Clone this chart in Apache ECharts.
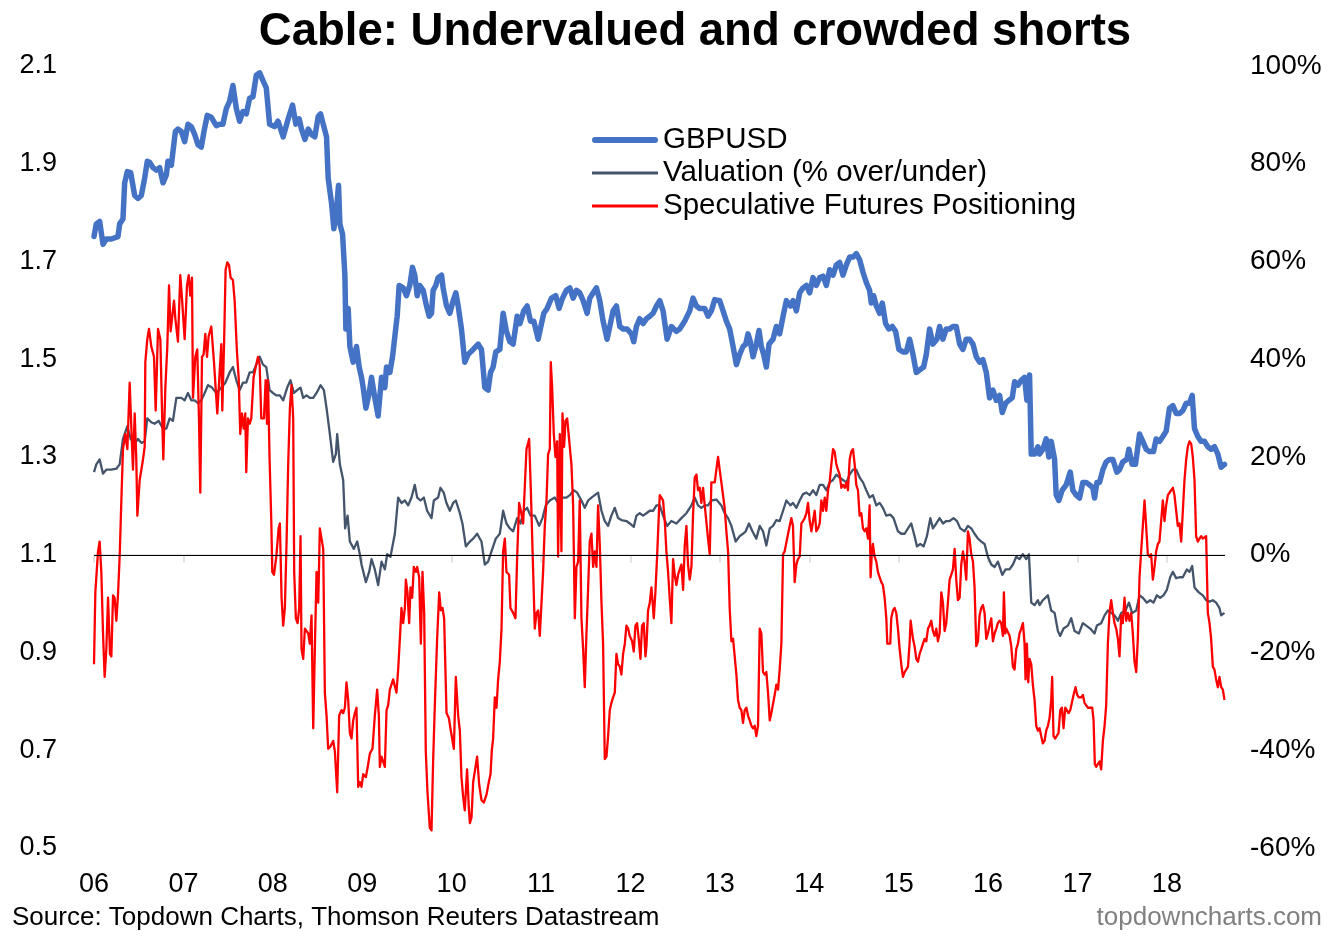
<!DOCTYPE html>
<html><head><meta charset="utf-8">
<script src="https://cdn.jsdelivr.net/npm/echarts@6/dist/echarts.min.js"></script>
<style>html,body{margin:0;padding:0;background:#fff}#c{width:1336px;height:940px}</style>
</head><body><div id="c"></div>
<script>
const FONT = "'Liberation Sans', Arial, sans-serif";
const titleText = 'Cable: Undervalued and crowded shorts';
const sourceText = 'Source: Topdown Charts, Thomson Reuters Datastream';
const brandText = 'topdowncharts.com';
const seriesNames = ['GBPUSD', 'Valuation (% over/under)', 'Speculative Futures Positioning'];
const yearTicks = [2006,2007,2008,2009,2010,2011,2012,2013,2014,2015,2016,2017,2018];

// GBPUSD spot (left axis), [decimal year, rate]
const gbpusd = [[2006.000,1.751],[2006.026,1.777],[2006.063,1.782],[2006.101,1.735],[2006.138,1.746],[2006.194,1.746],[2006.268,1.751],[2006.287,1.777],[2006.324,1.787],[2006.343,1.861],[2006.373,1.884],[2006.410,1.882],[2006.455,1.835],[2006.492,1.829],[2006.529,1.835],[2006.567,1.871],[2006.596,1.905],[2006.622,1.903],[2006.660,1.892],[2006.697,1.887],[2006.734,1.892],[2006.772,1.861],[2006.809,1.877],[2006.827,1.905],[2006.865,1.897],[2006.910,1.966],[2006.939,1.971],[2006.977,1.966],[2007.014,1.945],[2007.051,1.981],[2007.088,1.976],[2007.126,1.960],[2007.163,1.939],[2007.200,1.934],[2007.230,1.966],[2007.267,1.999],[2007.312,1.995],[2007.368,1.978],[2007.405,1.981],[2007.442,1.981],[2007.480,2.013],[2007.517,2.028],[2007.554,2.060],[2007.592,2.013],[2007.629,1.987],[2007.666,2.007],[2007.703,2.002],[2007.741,2.034],[2007.778,2.037],[2007.815,2.081],[2007.853,2.086],[2007.890,2.070],[2007.927,2.055],[2007.964,1.981],[2008.020,1.976],[2008.058,1.987],[2008.116,1.955],[2008.172,1.992],[2008.221,2.020],[2008.258,1.981],[2008.295,1.992],[2008.321,1.971],[2008.359,1.950],[2008.396,1.971],[2008.433,1.960],[2008.470,1.955],[2008.508,1.997],[2008.534,2.002],[2008.571,1.976],[2008.601,1.955],[2008.619,1.871],[2008.657,1.819],[2008.683,1.767],[2008.713,1.808],[2008.735,1.856],[2008.750,1.777],[2008.780,1.756],[2008.806,1.672],[2008.817,1.562],[2008.843,1.604],[2008.862,1.526],[2008.899,1.494],[2008.936,1.526],[2008.966,1.484],[2008.992,1.463],[2009.011,1.442],[2009.041,1.400],[2009.078,1.431],[2009.104,1.463],[2009.141,1.421],[2009.178,1.384],[2009.216,1.463],[2009.253,1.442],[2009.272,1.484],[2009.309,1.473],[2009.339,1.505],[2009.365,1.547],[2009.391,1.588],[2009.413,1.651],[2009.458,1.646],[2009.495,1.630],[2009.532,1.651],[2009.562,1.688],[2009.588,1.672],[2009.615,1.630],[2009.644,1.651],[2009.682,1.641],[2009.719,1.609],[2009.749,1.588],[2009.775,1.594],[2009.793,1.641],[2009.823,1.651],[2009.849,1.667],[2009.887,1.672],[2009.905,1.646],[2009.943,1.609],[2009.980,1.594],[2010.017,1.620],[2010.047,1.636],[2010.073,1.609],[2010.110,1.562],[2010.147,1.494],[2010.185,1.510],[2010.241,1.520],[2010.297,1.531],[2010.334,1.520],[2010.371,1.442],[2010.408,1.437],[2010.435,1.473],[2010.464,1.484],[2010.494,1.515],[2010.539,1.520],[2010.576,1.594],[2010.613,1.557],[2010.651,1.536],[2010.688,1.531],[2010.733,1.588],[2010.763,1.573],[2010.807,1.599],[2010.845,1.609],[2010.882,1.578],[2010.919,1.578],[2010.968,1.541],[2011.005,1.573],[2011.031,1.594],[2011.068,1.604],[2011.117,1.625],[2011.165,1.630],[2011.202,1.604],[2011.240,1.625],[2011.284,1.641],[2011.322,1.646],[2011.359,1.625],[2011.396,1.641],[2011.433,1.636],[2011.471,1.620],[2011.515,1.594],[2011.545,1.625],[2011.583,1.636],[2011.620,1.646],[2011.657,1.620],[2011.694,1.578],[2011.739,1.541],[2011.769,1.567],[2011.806,1.599],[2011.843,1.609],[2011.881,1.567],[2011.918,1.562],[2011.963,1.562],[2012.011,1.552],[2012.037,1.536],[2012.067,1.567],[2012.104,1.583],[2012.141,1.573],[2012.179,1.583],[2012.216,1.588],[2012.253,1.594],[2012.291,1.609],[2012.328,1.620],[2012.365,1.599],[2012.410,1.541],[2012.458,1.567],[2012.514,1.557],[2012.551,1.562],[2012.607,1.578],[2012.663,1.599],[2012.700,1.625],[2012.738,1.609],[2012.775,1.604],[2012.831,1.604],[2012.868,1.588],[2012.905,1.599],[2012.943,1.622],[2012.998,1.620],[2013.036,1.599],[2013.073,1.578],[2013.110,1.562],[2013.148,1.526],[2013.185,1.489],[2013.222,1.510],[2013.259,1.526],[2013.289,1.531],[2013.315,1.552],[2013.341,1.536],[2013.371,1.505],[2013.408,1.531],[2013.438,1.559],[2013.464,1.526],[2013.490,1.510],[2013.520,1.484],[2013.550,1.531],[2013.595,1.541],[2013.632,1.567],[2013.669,1.552],[2013.707,1.588],[2013.744,1.620],[2013.789,1.609],[2013.818,1.620],[2013.856,1.599],[2013.893,1.636],[2013.930,1.646],[2013.968,1.651],[2014.005,1.636],[2014.042,1.667],[2014.079,1.651],[2014.117,1.667],[2014.154,1.670],[2014.191,1.651],[2014.228,1.683],[2014.266,1.672],[2014.303,1.693],[2014.340,1.698],[2014.377,1.672],[2014.415,1.693],[2014.452,1.709],[2014.489,1.709],[2014.526,1.716],[2014.563,1.704],[2014.601,1.678],[2014.638,1.657],[2014.675,1.641],[2014.694,1.615],[2014.720,1.630],[2014.750,1.609],[2014.787,1.594],[2014.817,1.615],[2014.854,1.573],[2014.891,1.562],[2014.929,1.567],[2014.966,1.557],[2015.003,1.520],[2015.048,1.515],[2015.085,1.515],[2015.122,1.541],[2015.160,1.510],[2015.197,1.473],[2015.234,1.478],[2015.279,1.484],[2015.309,1.510],[2015.346,1.562],[2015.383,1.531],[2015.428,1.541],[2015.458,1.567],[2015.495,1.541],[2015.532,1.562],[2015.570,1.562],[2015.607,1.567],[2015.644,1.567],[2015.682,1.531],[2015.719,1.520],[2015.756,1.541],[2015.793,1.541],[2015.831,1.531],[2015.868,1.505],[2015.905,1.494],[2015.942,1.499],[2015.980,1.473],[2016.017,1.421],[2016.054,1.437],[2016.092,1.416],[2016.129,1.426],[2016.159,1.391],[2016.196,1.410],[2016.233,1.416],[2016.270,1.421],[2016.297,1.454],[2016.334,1.447],[2016.371,1.457],[2016.408,1.463],[2016.434,1.416],[2016.464,1.468],[2016.483,1.306],[2016.520,1.306],[2016.557,1.321],[2016.576,1.306],[2016.613,1.316],[2016.650,1.337],[2016.680,1.300],[2016.706,1.332],[2016.744,1.295],[2016.762,1.222],[2016.792,1.211],[2016.829,1.232],[2016.874,1.243],[2016.919,1.269],[2016.948,1.232],[2016.986,1.222],[2017.023,1.216],[2017.060,1.248],[2017.098,1.248],[2017.135,1.243],[2017.172,1.237],[2017.191,1.216],[2017.217,1.248],[2017.247,1.248],[2017.284,1.274],[2017.321,1.290],[2017.358,1.295],[2017.396,1.295],[2017.440,1.269],[2017.470,1.274],[2017.507,1.290],[2017.552,1.295],[2017.575,1.316],[2017.612,1.285],[2017.649,1.285],[2017.694,1.347],[2017.731,1.332],[2017.768,1.316],[2017.806,1.311],[2017.850,1.311],[2017.880,1.337],[2017.917,1.332],[2017.955,1.342],[2017.992,1.353],[2018.029,1.400],[2018.067,1.405],[2018.104,1.389],[2018.141,1.389],[2018.178,1.395],[2018.216,1.410],[2018.253,1.410],[2018.283,1.426],[2018.309,1.358],[2018.346,1.342],[2018.383,1.332],[2018.421,1.332],[2018.458,1.321],[2018.495,1.316],[2018.532,1.321],[2018.570,1.306],[2018.607,1.279],[2018.644,1.285]];

// Valuation, % over/under (right axis)
const valuation = [[2006.000,16.9],[2006.026,18.5],[2006.063,19.5],[2006.101,16.6],[2006.138,17.4],[2006.194,17.4],[2006.250,17.6],[2006.287,18.5],[2006.324,23.7],[2006.373,26.3],[2006.410,23.7],[2006.455,22.7],[2006.492,23.7],[2006.529,22.9],[2006.567,23.2],[2006.596,27.9],[2006.641,27.1],[2006.678,26.8],[2006.723,27.4],[2006.772,25.8],[2006.809,25.8],[2006.846,27.9],[2006.883,27.4],[2006.921,32.1],[2006.977,32.1],[2007.014,31.6],[2007.051,33.1],[2007.088,31.6],[2007.126,31.6],[2007.163,31.0],[2007.200,31.6],[2007.238,33.1],[2007.275,34.7],[2007.320,34.2],[2007.368,33.1],[2007.424,34.2],[2007.469,35.2],[2007.517,37.3],[2007.554,38.4],[2007.592,35.7],[2007.629,33.7],[2007.666,35.2],[2007.703,35.2],[2007.741,37.3],[2007.778,37.3],[2007.815,38.9],[2007.853,40.5],[2007.890,38.9],[2007.927,38.4],[2007.964,33.7],[2008.001,33.1],[2008.039,32.6],[2008.079,32.6],[2008.116,31.6],[2008.161,34.2],[2008.198,35.7],[2008.236,33.1],[2008.273,33.7],[2008.310,34.2],[2008.340,32.1],[2008.377,32.6],[2008.414,32.1],[2008.452,32.1],[2008.489,33.1],[2008.534,34.7],[2008.571,33.7],[2008.601,30.0],[2008.638,24.7],[2008.675,19.0],[2008.705,20.6],[2008.720,24.7],[2008.750,18.5],[2008.787,15.3],[2008.809,5.4],[2008.836,8.0],[2008.862,2.7],[2008.906,1.2],[2008.944,2.7],[2008.973,0.1],[2008.992,-2.0],[2009.041,-5.6],[2009.078,-3.5],[2009.104,-0.9],[2009.141,-3.0],[2009.178,-6.2],[2009.216,-1.4],[2009.253,-3.0],[2009.279,0.1],[2009.316,-0.4],[2009.365,4.3],[2009.402,11.7],[2009.439,10.6],[2009.477,11.1],[2009.514,10.1],[2009.551,11.7],[2009.588,14.3],[2009.615,11.7],[2009.652,11.1],[2009.689,11.7],[2009.726,9.0],[2009.775,7.5],[2009.801,11.1],[2009.849,11.7],[2009.875,13.7],[2009.912,12.7],[2009.942,10.6],[2009.980,9.0],[2010.017,10.6],[2010.047,11.1],[2010.092,8.5],[2010.121,6.4],[2010.159,1.7],[2010.204,2.7],[2010.241,3.3],[2010.285,4.3],[2010.334,2.7],[2010.371,-2.0],[2010.408,-1.4],[2010.446,0.7],[2010.494,3.3],[2010.539,4.3],[2010.576,9.0],[2010.613,6.4],[2010.651,5.4],[2010.688,4.8],[2010.733,7.5],[2010.770,6.4],[2010.807,9.0],[2010.845,9.6],[2010.882,8.0],[2010.930,8.0],[2010.979,5.9],[2011.016,7.5],[2011.053,10.1],[2011.098,11.1],[2011.154,11.7],[2011.191,10.6],[2011.240,11.7],[2011.284,11.7],[2011.322,12.2],[2011.366,13.2],[2011.404,12.7],[2011.452,11.1],[2011.489,9.6],[2011.527,11.1],[2011.564,11.7],[2011.601,12.2],[2011.638,12.7],[2011.676,9.0],[2011.713,6.9],[2011.750,5.9],[2011.787,8.0],[2011.825,9.6],[2011.862,7.5],[2011.899,7.1],[2011.955,6.9],[2011.992,6.4],[2012.037,5.7],[2012.067,8.0],[2012.104,8.5],[2012.141,8.0],[2012.179,8.5],[2012.216,9.0],[2012.253,9.0],[2012.291,10.1],[2012.328,10.1],[2012.365,8.0],[2012.410,5.9],[2012.458,6.9],[2012.514,6.4],[2012.570,7.5],[2012.626,8.5],[2012.682,10.1],[2012.719,11.7],[2012.756,10.1],[2012.793,9.6],[2012.831,10.1],[2012.868,10.1],[2012.905,11.1],[2012.961,11.3],[2013.017,10.1],[2013.054,8.5],[2013.092,7.5],[2013.129,5.9],[2013.177,2.7],[2013.222,3.8],[2013.259,4.3],[2013.289,4.8],[2013.326,6.4],[2013.364,4.8],[2013.408,3.3],[2013.446,5.9],[2013.483,4.8],[2013.520,1.9],[2013.558,5.4],[2013.595,5.9],[2013.632,7.1],[2013.669,6.9],[2013.707,9.0],[2013.744,11.1],[2013.789,10.1],[2013.818,10.6],[2013.856,9.6],[2013.893,11.1],[2013.930,12.4],[2013.968,12.7],[2014.005,12.2],[2014.042,13.2],[2014.079,12.2],[2014.117,14.3],[2014.154,14.3],[2014.191,13.2],[2014.228,14.8],[2014.266,15.3],[2014.303,16.4],[2014.340,15.8],[2014.377,15.3],[2014.415,14.8],[2014.452,16.4],[2014.489,17.4],[2014.526,17.4],[2014.563,15.8],[2014.601,14.8],[2014.638,13.2],[2014.675,11.7],[2014.712,12.2],[2014.750,10.1],[2014.787,10.6],[2014.824,9.6],[2014.861,8.0],[2014.906,8.2],[2014.943,7.5],[2014.992,4.8],[2015.029,4.3],[2015.067,4.3],[2015.104,5.4],[2015.141,6.4],[2015.178,3.8],[2015.205,1.7],[2015.242,2.2],[2015.279,1.7],[2015.316,3.8],[2015.354,7.5],[2015.383,5.4],[2015.421,6.4],[2015.458,7.5],[2015.495,6.4],[2015.532,6.9],[2015.570,6.9],[2015.614,7.5],[2015.652,6.9],[2015.689,5.4],[2015.737,4.8],[2015.775,5.9],[2015.812,5.4],[2015.849,4.3],[2015.887,3.3],[2015.924,2.7],[2015.961,2.2],[2015.998,-0.4],[2016.036,-2.0],[2016.073,-2.5],[2016.110,-1.4],[2016.159,-4.1],[2016.196,-3.0],[2016.240,-3.0],[2016.278,-2.0],[2016.315,-0.4],[2016.352,-0.9],[2016.389,0.1],[2016.427,-0.9],[2016.457,0.1],[2016.483,-9.8],[2016.520,-10.3],[2016.557,-9.3],[2016.576,-10.3],[2016.613,-9.3],[2016.669,-8.3],[2016.706,-11.4],[2016.744,-11.9],[2016.781,-15.6],[2016.807,-16.6],[2016.844,-15.1],[2016.893,-14.5],[2016.930,-13.0],[2016.967,-15.6],[2017.016,-16.1],[2017.060,-14.0],[2017.098,-14.5],[2017.142,-15.1],[2017.191,-16.1],[2017.217,-14.5],[2017.265,-14.0],[2017.303,-12.4],[2017.340,-11.4],[2017.377,-11.9],[2017.414,-12.4],[2017.452,-13.5],[2017.489,-11.9],[2017.537,-11.4],[2017.575,-9.8],[2017.612,-11.9],[2017.657,-11.4],[2017.694,-8.3],[2017.731,-8.8],[2017.776,-9.8],[2017.813,-9.3],[2017.850,-9.8],[2017.888,-8.3],[2017.925,-8.8],[2017.962,-8.3],[2017.999,-7.2],[2018.037,-4.6],[2018.067,-3.5],[2018.104,-4.8],[2018.141,-4.6],[2018.178,-4.6],[2018.223,-3.0],[2018.253,-3.5],[2018.283,-2.3],[2018.309,-6.7],[2018.357,-7.7],[2018.402,-8.3],[2018.439,-9.3],[2018.477,-9.6],[2018.514,-9.3],[2018.551,-9.8],[2018.588,-10.9],[2018.607,-12.4],[2018.644,-11.9]];

// Speculative futures positioning, % (right axis)
const positioning = [[2006.000,-22.4],[2006.015,-7.7],[2006.045,0.7],[2006.063,2.7],[2006.082,-3.5],[2006.101,-16.1],[2006.119,-25.0],[2006.138,-19.3],[2006.157,-8.8],[2006.179,-20.3],[2006.194,-20.8],[2006.213,-8.3],[2006.231,-8.8],[2006.250,-13.5],[2006.268,-8.3],[2006.287,-0.4],[2006.306,11.1],[2006.324,21.6],[2006.350,24.7],[2006.373,21.6],[2006.399,35.2],[2006.418,25.8],[2006.436,17.4],[2006.455,28.9],[2006.473,19.5],[2006.485,8.0],[2006.511,15.3],[2006.548,19.5],[2006.567,22.1],[2006.574,39.4],[2006.596,44.1],[2006.615,46.2],[2006.641,42.6],[2006.671,40.5],[2006.690,29.5],[2006.716,46.2],[2006.742,44.1],[2006.760,30.0],[2006.775,19.5],[2006.798,34.2],[2006.820,42.6],[2006.839,55.1],[2006.857,45.7],[2006.876,48.9],[2006.895,52.0],[2006.910,48.3],[2006.939,43.6],[2006.965,57.2],[2006.984,52.5],[2007.014,44.1],[2007.040,55.1],[2007.059,57.2],[2007.077,53.0],[2007.096,56.7],[2007.107,32.1],[2007.133,40.5],[2007.155,42.0],[2007.174,27.9],[2007.189,12.7],[2007.208,40.5],[2007.226,41.0],[2007.245,45.2],[2007.264,40.5],[2007.282,44.7],[2007.312,46.7],[2007.342,39.4],[2007.379,28.9],[2007.405,37.3],[2007.424,43.1],[2007.435,29.5],[2007.454,42.6],[2007.472,58.3],[2007.491,59.8],[2007.510,59.3],[2007.528,56.7],[2007.554,56.2],[2007.573,52.0],[2007.599,41.5],[2007.618,36.3],[2007.636,24.7],[2007.655,28.9],[2007.674,25.8],[2007.692,28.9],[2007.703,16.9],[2007.722,27.9],[2007.741,26.8],[2007.759,27.9],[2007.785,36.3],[2007.815,38.9],[2007.834,40.5],[2007.853,38.9],[2007.871,27.9],[2007.901,27.9],[2007.920,35.7],[2007.935,26.8],[2007.946,35.7],[2007.964,19.5],[2007.983,6.9],[2007.994,-3.5],[2008.013,-4.1],[2008.039,-0.4],[2008.065,5.4],[2008.079,6.4],[2008.098,-8.8],[2008.116,-14.5],[2008.135,-10.9],[2008.154,2.7],[2008.172,18.5],[2008.191,30.0],[2008.209,34.7],[2008.228,27.9],[2008.239,-3.5],[2008.258,-13.0],[2008.277,-14.0],[2008.295,-10.9],[2008.310,3.8],[2008.321,-19.3],[2008.340,-21.3],[2008.359,-15.1],[2008.377,-15.1],[2008.396,-16.1],[2008.414,-18.2],[2008.433,-12.4],[2008.452,-35.5],[2008.470,-19.3],[2008.489,-3.5],[2008.508,-9.8],[2008.526,5.4],[2008.545,3.3],[2008.564,1.2],[2008.582,-28.2],[2008.601,-32.9],[2008.619,-39.7],[2008.645,-39.2],[2008.675,-38.1],[2008.694,-40.2],[2008.720,-48.6],[2008.742,-32.9],[2008.768,-31.8],[2008.787,-32.4],[2008.806,-31.3],[2008.824,-26.1],[2008.843,-29.7],[2008.862,-36.5],[2008.880,-37.6],[2008.899,-33.9],[2008.918,-32.4],[2008.936,-31.3],[2008.955,-47.5],[2008.973,-46.5],[2008.992,-47.5],[2009.011,-44.9],[2009.041,-45.5],[2009.067,-42.8],[2009.085,-40.7],[2009.115,-39.7],[2009.141,-32.9],[2009.167,-27.6],[2009.186,-32.9],[2009.197,-43.4],[2009.216,-41.3],[2009.234,-41.3],[2009.253,-43.4],[2009.272,-31.8],[2009.290,-30.8],[2009.309,-27.6],[2009.346,-25.5],[2009.365,-25.5],[2009.383,-28.2],[2009.402,-23.5],[2009.421,-17.2],[2009.439,-10.9],[2009.458,-14.0],[2009.477,-10.9],[2009.488,-5.1],[2009.506,-7.7],[2009.525,-14.0],[2009.540,-6.7],[2009.559,-8.8],[2009.577,-2.5],[2009.600,-3.5],[2009.615,-2.5],[2009.637,-4.6],[2009.656,-18.2],[2009.674,-3.5],[2009.693,-11.9],[2009.711,-40.2],[2009.730,-48.6],[2009.756,-55.9],[2009.775,-56.4],[2009.793,-42.3],[2009.812,-30.8],[2009.838,-17.2],[2009.861,-7.7],[2009.879,-11.4],[2009.898,-10.9],[2009.916,-13.0],[2009.943,-32.4],[2009.969,-33.4],[2009.991,-36.0],[2010.010,-36.0],[2010.025,-39.7],[2010.047,-25.0],[2010.073,-32.9],[2010.092,-36.0],[2010.110,-45.5],[2010.129,-49.6],[2010.147,-52.3],[2010.173,-43.9],[2010.192,-51.7],[2010.204,-54.9],[2010.222,-53.8],[2010.241,-46.5],[2010.259,-46.5],[2010.285,-41.3],[2010.308,-47.0],[2010.334,-50.2],[2010.360,-50.7],[2010.390,-49.1],[2010.416,-46.5],[2010.435,-44.9],[2010.449,-40.2],[2010.464,-37.6],[2010.483,-29.2],[2010.502,-31.3],[2010.520,-25.5],[2010.539,-21.9],[2010.558,-15.1],[2010.576,0.7],[2010.595,3.3],[2010.613,-3.5],[2010.643,-4.1],[2010.658,-10.9],[2010.688,-11.9],[2010.714,-13.0],[2010.733,-0.4],[2010.755,10.6],[2010.774,9.0],[2010.800,6.4],[2010.818,6.4],[2010.837,21.6],[2010.867,23.7],[2010.886,13.2],[2010.912,-3.5],[2010.930,-15.1],[2010.949,-11.9],[2010.968,-11.4],[2010.986,-16.6],[2011.005,-16.6],[2011.023,-3.5],[2011.042,5.9],[2011.061,11.1],[2011.079,20.6],[2011.098,21.6],[2011.109,39.4],[2011.124,34.2],[2011.143,24.7],[2011.161,20.0],[2011.180,23.2],[2011.191,-0.4],[2011.210,24.7],[2011.228,0.7],[2011.240,28.9],[2011.258,22.1],[2011.273,27.4],[2011.292,27.9],[2011.314,27.9],[2011.340,18.5],[2011.359,10.1],[2011.378,-13.0],[2011.396,-2.5],[2011.415,-1.4],[2011.433,11.1],[2011.452,-13.0],[2011.471,-19.3],[2011.489,-27.1],[2011.508,-16.1],[2011.527,-6.7],[2011.545,2.7],[2011.564,4.3],[2011.583,-2.5],[2011.601,0.7],[2011.620,-2.5],[2011.638,10.1],[2011.657,2.2],[2011.676,-9.8],[2011.694,-18.2],[2011.713,-41.8],[2011.732,-41.3],[2011.750,-37.1],[2011.769,-31.8],[2011.787,-30.3],[2011.806,-29.2],[2011.825,-28.2],[2011.843,-20.3],[2011.862,-22.4],[2011.881,-22.9],[2011.899,-24.5],[2011.918,-20.3],[2011.937,-18.2],[2011.955,-14.5],[2011.974,-15.1],[2011.992,-16.6],[2012.019,-17.7],[2012.037,-19.8],[2012.056,-14.5],[2012.074,-14.0],[2012.093,-17.2],[2012.112,-21.3],[2012.130,-14.5],[2012.149,-14.0],[2012.168,-20.8],[2012.179,-18.7],[2012.197,-11.4],[2012.216,-9.8],[2012.235,-6.7],[2012.246,-9.3],[2012.261,-13.0],[2012.279,-7.7],[2012.298,-0.4],[2012.317,8.0],[2012.328,12.2],[2012.346,11.7],[2012.365,11.1],[2012.384,6.9],[2012.402,0.7],[2012.421,-3.5],[2012.439,-8.8],[2012.458,-14.0],[2012.477,-0.9],[2012.495,-4.1],[2012.514,-6.2],[2012.533,-4.1],[2012.551,-3.0],[2012.570,-2.0],[2012.589,-7.2],[2012.607,1.7],[2012.626,5.9],[2012.644,-2.0],[2012.663,-5.1],[2012.682,-2.5],[2012.700,8.0],[2012.719,15.8],[2012.738,16.4],[2012.756,13.2],[2012.775,13.7],[2012.793,10.6],[2012.812,13.7],[2012.831,10.1],[2012.849,10.1],[2012.868,3.3],[2012.887,0.1],[2012.905,14.8],[2012.924,14.8],[2012.943,14.8],[2012.961,17.4],[2012.980,20.0],[2012.998,17.4],[2013.017,14.8],[2013.036,14.8],[2013.054,9.6],[2013.073,4.8],[2013.092,0.7],[2013.110,-10.9],[2013.129,-17.7],[2013.148,-17.2],[2013.166,-17.2],[2013.185,-24.5],[2013.203,-29.7],[2013.222,-31.3],[2013.241,-31.8],[2013.259,-34.4],[2013.278,-31.8],[2013.297,-31.3],[2013.315,-32.9],[2013.334,-33.9],[2013.353,-35.0],[2013.371,-35.5],[2013.390,-35.0],[2013.408,-37.1],[2013.427,-35.0],[2013.446,-15.1],[2013.464,-16.1],[2013.483,-24.0],[2013.502,-24.5],[2013.520,-24.0],[2013.539,-28.2],[2013.558,-33.9],[2013.576,-32.4],[2013.595,-32.4],[2013.613,-28.7],[2013.632,-26.6],[2013.651,-27.6],[2013.669,-23.5],[2013.688,-18.2],[2013.707,0.1],[2013.725,0.7],[2013.744,0.7],[2013.763,4.3],[2013.781,5.9],[2013.800,7.5],[2013.818,5.9],[2013.837,-5.6],[2013.856,-2.0],[2013.874,-0.9],[2013.893,-0.4],[2013.912,6.4],[2013.930,6.9],[2013.949,7.5],[2013.968,8.5],[2013.986,10.6],[2014.005,6.9],[2014.024,4.8],[2014.042,4.8],[2014.061,9.0],[2014.079,4.8],[2014.098,5.4],[2014.117,6.4],[2014.135,11.1],[2014.154,9.0],[2014.173,11.7],[2014.191,9.0],[2014.210,13.2],[2014.228,14.8],[2014.247,18.5],[2014.266,21.6],[2014.284,21.1],[2014.303,18.5],[2014.321,17.4],[2014.340,16.4],[2014.359,13.7],[2014.377,14.3],[2014.396,13.7],[2014.415,14.8],[2014.433,13.2],[2014.452,19.5],[2014.470,21.1],[2014.489,21.6],[2014.508,18.5],[2014.526,14.3],[2014.545,13.2],[2014.563,8.0],[2014.582,8.5],[2014.601,5.4],[2014.619,4.8],[2014.638,5.4],[2014.657,3.3],[2014.675,10.1],[2014.686,-4.6],[2014.701,0.7],[2014.712,2.2],[2014.731,-0.4],[2014.750,-1.4],[2014.768,-3.5],[2014.787,-4.6],[2014.806,-5.6],[2014.824,-6.2],[2014.843,-8.8],[2014.862,-13.0],[2014.873,-18.2],[2014.891,-18.2],[2014.906,-18.2],[2014.917,-13.0],[2014.936,-11.4],[2014.955,-10.9],[2014.973,-11.9],[2014.992,-15.1],[2015.011,-19.3],[2015.029,-22.4],[2015.048,-25.0],[2015.067,-24.0],[2015.085,-23.5],[2015.104,-22.9],[2015.122,-18.2],[2015.134,-13.5],[2015.145,-15.1],[2015.160,-17.2],[2015.178,-18.7],[2015.197,-21.3],[2015.216,-21.9],[2015.234,-20.3],[2015.253,-19.3],[2015.272,-18.2],[2015.290,-17.2],[2015.309,-17.7],[2015.328,-15.1],[2015.346,-14.5],[2015.365,-13.5],[2015.383,-15.6],[2015.402,-16.6],[2015.421,-15.1],[2015.439,-17.7],[2015.458,-16.1],[2015.477,-7.7],[2015.495,-9.8],[2015.514,-15.6],[2015.532,-14.0],[2015.551,-9.8],[2015.570,-5.1],[2015.588,-4.1],[2015.607,-3.0],[2015.626,1.2],[2015.644,-5.1],[2015.663,-9.3],[2015.682,-8.8],[2015.700,-2.0],[2015.719,0.7],[2015.737,-1.4],[2015.756,-5.1],[2015.775,4.8],[2015.793,3.3],[2015.812,0.1],[2015.831,-1.4],[2015.849,-6.7],[2015.868,-18.7],[2015.887,-17.7],[2015.905,-12.4],[2015.924,-10.9],[2015.942,-10.3],[2015.961,-11.9],[2015.980,-17.2],[2015.998,-16.1],[2016.017,-14.5],[2016.036,-13.0],[2016.054,-17.7],[2016.073,-16.1],[2016.092,-15.1],[2016.110,-14.0],[2016.129,-13.5],[2016.147,-14.0],[2016.166,-16.6],[2016.177,-7.7],[2016.192,-16.1],[2016.203,-15.1],[2016.222,-15.1],[2016.241,-16.6],[2016.259,-18.7],[2016.278,-22.9],[2016.296,-23.5],[2016.315,-19.3],[2016.334,-18.2],[2016.352,-16.1],[2016.371,-15.1],[2016.390,-14.0],[2016.408,-18.2],[2016.419,-25.5],[2016.434,-18.2],[2016.449,-26.1],[2016.464,-21.3],[2016.483,-22.4],[2016.501,-26.6],[2016.520,-29.7],[2016.539,-35.0],[2016.557,-36.0],[2016.576,-35.5],[2016.594,-37.1],[2016.613,-38.6],[2016.632,-38.1],[2016.650,-36.0],[2016.669,-35.0],[2016.688,-33.4],[2016.706,-29.7],[2016.717,-25.0],[2016.732,-37.1],[2016.751,-37.6],[2016.770,-37.6],[2016.788,-36.5],[2016.807,-31.8],[2016.826,-31.3],[2016.844,-35.5],[2016.863,-31.3],[2016.881,-31.8],[2016.900,-32.4],[2016.919,-31.8],[2016.937,-30.3],[2016.956,-28.7],[2016.978,-27.1],[2016.997,-28.7],[2017.016,-29.2],[2017.042,-29.2],[2017.060,-28.7],[2017.079,-30.3],[2017.098,-30.8],[2017.116,-31.3],[2017.135,-31.3],[2017.165,-31.3],[2017.180,-33.9],[2017.194,-42.8],[2017.209,-43.4],[2017.228,-42.8],[2017.247,-42.3],[2017.265,-43.9],[2017.284,-38.1],[2017.303,-35.0],[2017.321,-30.8],[2017.340,-18.2],[2017.358,-11.9],[2017.377,-9.3],[2017.396,-11.9],[2017.414,-14.0],[2017.433,-15.1],[2017.452,-17.2],[2017.470,-20.8],[2017.489,-12.4],[2017.507,-14.0],[2017.526,-8.8],[2017.545,-13.5],[2017.563,-11.9],[2017.582,-13.5],[2017.601,-11.9],[2017.619,-16.1],[2017.638,-21.9],[2017.657,-24.0],[2017.675,-17.2],[2017.694,-4.6],[2017.712,0.7],[2017.731,5.9],[2017.750,11.1],[2017.768,5.9],[2017.787,0.1],[2017.806,-0.4],[2017.824,0.1],[2017.843,-5.1],[2017.862,-2.5],[2017.880,0.7],[2017.899,2.2],[2017.917,2.7],[2017.936,6.9],[2017.955,11.1],[2017.973,6.9],[2017.992,10.1],[2018.011,12.2],[2018.029,12.2],[2018.048,13.2],[2018.067,13.7],[2018.085,12.2],[2018.104,9.0],[2018.122,5.9],[2018.141,6.4],[2018.160,2.7],[2018.178,2.7],[2018.197,15.3],[2018.216,19.5],[2018.234,22.1],[2018.253,23.2],[2018.272,22.7],[2018.290,20.0],[2018.309,15.3],[2018.327,3.8],[2018.346,2.7],[2018.365,3.3],[2018.383,3.8],[2018.402,3.3],[2018.421,3.3],[2018.439,3.8],[2018.458,-11.9],[2018.477,-14.0],[2018.495,-17.2],[2018.514,-22.9],[2018.532,-23.5],[2018.551,-25.5],[2018.570,-27.1],[2018.588,-25.0],[2018.607,-27.1],[2018.626,-27.6],[2018.644,-29.7]];

const chart = echarts.init(document.getElementById('c'), null, {renderer: 'canvas'});
chart.setOption({
  animation: false,
  backgroundColor: '#ffffff',
  grid: {left: 94, right: 111, top: 66, bottom: 92, containLabel: false, outerBoundsMode: 'none'},
  xAxis: {
    type: 'value', min: 2006, max: 2018.65,
    axisLine: {show: true, lineStyle: {color: '#d9d9d9', width: 1.5}},
    axisTick: {show: true, length: 8, lineStyle: {color: '#d9d9d9', width: 1.5}, customValues: yearTicks},
    axisLabel: {customValues: yearTicks, formatter: v => String(Math.round(v)).slice(2), fontSize: 27, color: '#000', fontFamily: FONT, margin: 23},
    splitLine: {show: false}
  },
  yAxis: [
    {type: 'value', min: 0.5, max: 2.1, interval: 0.2, position: 'left',
     axisLine: {show: false}, axisTick: {show: false}, splitLine: {show: false},
     axisLabel: {formatter: v => v.toFixed(1), fontSize: 27, color: '#000', fontFamily: FONT, margin: 37, padding: [4, 0, 0, 0]}},
    {type: 'value', min: -60, max: 100, interval: 20, position: 'right',
     axisLine: {show: false}, axisTick: {show: false}, splitLine: {show: false},
     axisLabel: {formatter: v => Math.round(v) + '%', fontSize: 28, color: '#000', fontFamily: FONT, margin: 25, padding: [4, 0, 0, 0]}}
  ],
  legend: {
    orient: 'vertical', left: 592, top: 125, padding: 0,
    itemWidth: 66, itemHeight: 14, itemGap: 3, symbolKeepAspect: true,
    textStyle: {fontSize: 29.5, fontFamily: FONT, color: '#000', lineHeight: 28},
    data: [
      {name: seriesNames[0], icon: 'path://M3,0 L63,0 A3,3 0 0 1 63,6 L3,6 A3,3 0 0 1 3,0 Z'},
      {name: seriesNames[1], icon: 'path://M0,0 L66,0 L66,3 L0,3 Z'},
      {name: seriesNames[2], icon: 'path://M0,0 L66,0 L66,3 L0,3 Z'}
    ]
  },
  graphic: [
    {type: 'text', x: 695, y: 32, style: {text: titleText, font: 'bold 45.5px ' + FONT, fill: '#000', align: 'center', verticalAlign: 'middle', textAlign: 'center', textVerticalAlign: 'middle'}},
    {type: 'text', x: 12, y: 918, style: {text: sourceText, font: '26px ' + FONT, fill: '#000', align: 'left', verticalAlign: 'middle', textAlign: 'left', textVerticalAlign: 'middle'}},
    {type: 'text', x: 1322, y: 918, style: {text: brandText, font: '26px ' + FONT, fill: '#808080', align: 'right', verticalAlign: 'middle', textAlign: 'right', textVerticalAlign: 'middle'}}
  ],
  series: [
    {name: seriesNames[0], type: 'line', yAxisIndex: 0, data: gbpusd, symbol: 'none', showSymbol: false, z: 4,
     lineStyle: {color: '#4472C4', width: 5.5, join: 'round', cap: 'round'}, itemStyle: {color: '#4472C4'}},
    {name: seriesNames[1], type: 'line', yAxisIndex: 1, data: valuation, symbol: 'none', showSymbol: false, z: 2,
     lineStyle: {color: '#44546A', width: 2.3, join: 'round'}, itemStyle: {color: '#44546A'},
     markLine: {silent: true, symbol: ['none', 'none'], label: {show: false}, animation: false,
       lineStyle: {color: '#000', width: 1, type: 'solid'}, emphasis: {disabled: true}, data: [{yAxis: 0}]}},
    {name: seriesNames[2], type: 'line', yAxisIndex: 1, data: positioning, symbol: 'none', showSymbol: false, z: 3,
     lineStyle: {color: '#FF0000', width: 2.3, join: 'round'}, itemStyle: {color: '#FF0000'}}
  ]
});
</script>
</body></html>
